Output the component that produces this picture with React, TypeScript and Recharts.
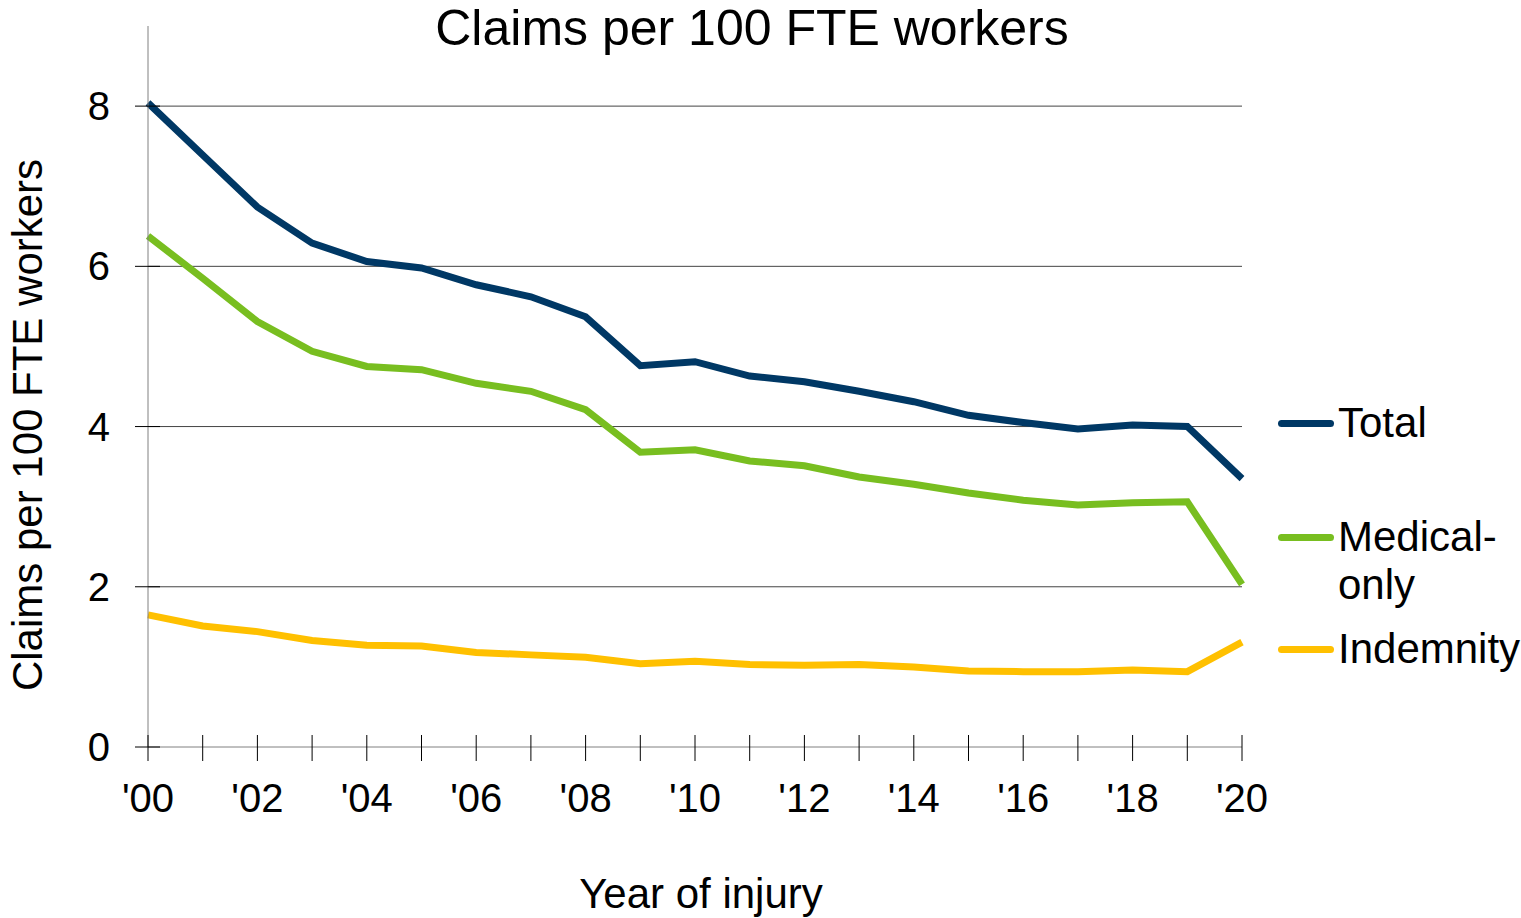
import React from 'react';
import { CartesianGrid, Line, LineChart, XAxis, YAxis } from 'recharts';

const years = [2000, 2001, 2002, 2003, 2004, 2005, 2006, 2007, 2008, 2009, 2010, 2011, 2012, 2013, 2014, 2015, 2016, 2017, 2018, 2019, 2020];
const total = [8.04, 7.39, 6.74, 6.29, 6.06, 5.98, 5.77, 5.62, 5.37, 4.76, 4.81, 4.63, 4.56, 4.44, 4.31, 4.14, 4.05, 3.97, 4.02, 4.0, 3.35];
const medicalOnly = [6.38, 5.85, 5.31, 4.94, 4.75, 4.71, 4.54, 4.44, 4.21, 3.68, 3.71, 3.57, 3.51, 3.37, 3.28, 3.17, 3.08, 3.02, 3.05, 3.06, 2.03];
const indemnity = [1.65, 1.51, 1.44, 1.33, 1.27, 1.26, 1.18, 1.15, 1.12, 1.04, 1.07, 1.03, 1.02, 1.03, 1.0, 0.95, 0.94, 0.94, 0.96, 0.94, 1.31];
const yTicks = [0, 2, 4, 6, 8];
const gridValues = [2, 4, 6, 8];

const series = [
  { key: 'total', name: 'Total', color: '#003865' },
  { key: 'medical', name: 'Medical-only', color: '#78BE20' },
  { key: 'indemnity', name: 'Indemnity', color: '#FFC000' },
];

const data = years.map((year, i) => ({
  year,
  total: total[i],
  medical: medicalOnly[i],
  indemnity: indemnity[i],
}));

const FONT = '"Liberation Sans", Arial, sans-serif';

// x tick: line crossing the axis, label only on even years
const XTick = (props: any) => {
  const { x, y, payload } = props;
  const yr = payload.value as number;
  return (
    <g>
      <line x1={x} x2={x} y1={y - 12} y2={y + 14} stroke="#000" strokeWidth={1} />
      {yr % 2 === 0 && (
        <text x={x} y={y + 65} textAnchor="middle" fontSize={40} fontFamily={FONT} fill="#000">
          {"'" + String(yr % 100).padStart(2, '0')}
        </text>
      )}
    </g>
  );
};

const YTick = (props: any) => {
  const { x, y, payload } = props;
  return (
    <g>
      <line x1={x - 13} x2={x + 12} y1={y} y2={y} stroke="#000" strokeWidth={1} />
      <text x={x - 38} y={y + 14} textAnchor="end" fontSize={40} fontFamily={FONT} fill="#000">
        {payload.value}
      </text>
    </g>
  );
};

const legendRows = [
  { s: series[0], top: 0, lines: ['Total'] },
  { s: series[1], top: 114, lines: ['Medical-', 'only'] },
  { s: series[2], top: 226, lines: ['Indemnity'] },
];

const LegendBox = () => (
  <div style={{ position: 'absolute', left: 1278, top: 399, width: 243, height: 280, fontFamily: FONT, fontSize: 42 }}>
    {legendRows.map(r => (
      <div key={r.s.key} style={{ position: 'absolute', top: r.top, left: 0 }}>
        <div style={{ position: 'absolute', left: 0, top: 21, width: 56, height: 7, borderRadius: 4, background: r.s.color }} />
        <div style={{ position: 'absolute', left: 60, top: 0, lineHeight: '48px', whiteSpace: 'nowrap', color: '#000' }}>
          {r.lines.map(l => <div key={l}>{l}</div>)}
        </div>
      </div>
    ))}
  </div>
);

export default function App() {
  return (
    <div style={{ position: 'absolute', left: 0, top: 0, width: 1521, height: 918, background: '#fff', fontFamily: FONT }}>
      <LineChart width={1521} height={918} data={data} margin={{ top: 26, right: 279, bottom: 0, left: 0 }}>
        <CartesianGrid vertical={false} horizontalValues={gridValues} stroke="#444" strokeWidth={1} />
        <XAxis
          dataKey="year"
          type="number"
          domain={[2000, 2020]}
          ticks={years}
          height={171}
          stroke="#808080"
          tickSize={0}
          tickMargin={0}
          tick={<XTick />}
          interval={0}
        />
        <YAxis
          type="number"
          domain={[0, 9]}
          ticks={yTicks}
          width={148}
          stroke="#808080"
          tickSize={0}
          tickMargin={0}
          tick={<YTick />}
          interval={0}
        />
        {series.map(s => (
          <Line
            key={s.key}
            type="linear"
            dataKey={s.key}
            name={s.name}
            stroke={s.color}
            strokeWidth={7}
            strokeLinecap="butt"
            strokeLinejoin="miter"
            dot={false}
            activeDot={false}
            isAnimationActive={false}
          />
        ))}
      </LineChart>
      <LegendBox />
      <svg width={1521} height={918} style={{ position: 'absolute', left: 0, top: 0, pointerEvents: 'none' }}>
        <text x={752} y={45} textAnchor="middle" fontSize={50} fontFamily={FONT} fill="#000">
          Claims per 100 FTE workers
        </text>
        <text x={701} y={908} textAnchor="middle" fontSize={42} fontFamily={FONT} fill="#000">
          Year of injury
        </text>
        <text
          x={0}
          y={0}
          transform="translate(42,425) rotate(-90)"
          textAnchor="middle"
          fontSize={42}
          fontFamily={FONT}
          fill="#000"
        >
          Claims per 100 FTE workers
        </text>
      </svg>
    </div>
  );
}
